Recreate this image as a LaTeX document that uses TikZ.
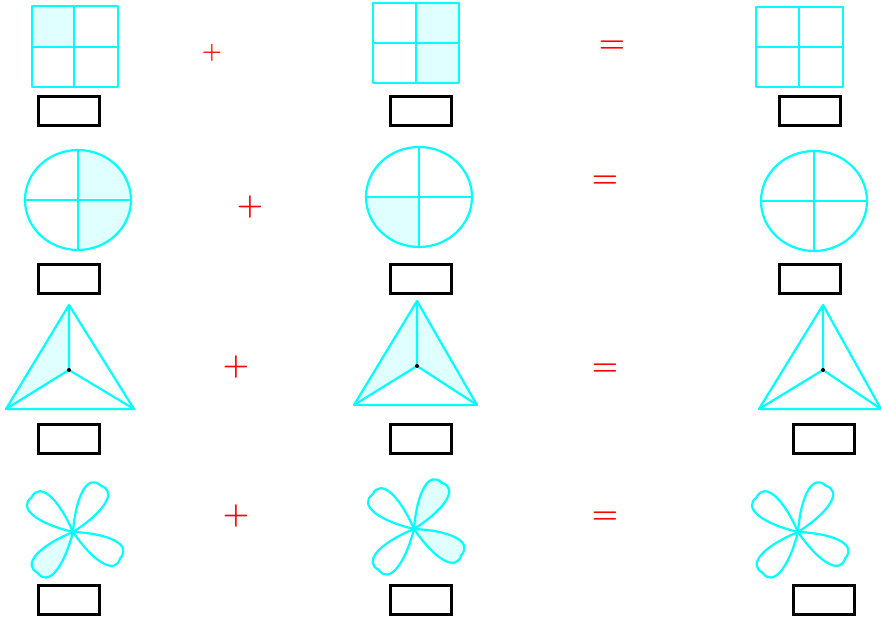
\documentclass[tikz,border=0pt]{standalone}
\usetikzlibrary{calc}
\definecolor{cy}{RGB}{0,255,255}
\definecolor{lcy}{RGB}{224,255,255}
\definecolor{rd}{RGB}{255,0,0}
\tikzset{
 shp/.style={draw=cy, line width=2.2pt, line join=round},
 shadefill/.style={fill=lcy},
 ansbox/.style={draw=black, line width=3pt, minimum width=61pt, minimum height=29pt, inner sep=0pt},
 op/.style={text=rd, font=\fontsize{30}{30}\selectfont\bfseries, inner sep=0pt},
 opsmall/.style={text=rd, font=\fontsize{23}{23}\selectfont\bfseries, inner sep=0pt},
 ctr/.style={fill=black, circle, inner sep=0pt, minimum size=4pt},
}
\newcommand{\petalpath}{(0,0) .. controls (34,17) and (58,17) .. (54,0) .. controls (58,-17) and (34,-17) .. (0,0)}
\begin{document}
\begin{tikzpicture}[x=1pt,y=1pt]
\useasboundingbox (0,0) rectangle (881,618);

% ---------- Row 1: squares ----------
\fill[shadefill] (32,571) rectangle (74,612);
\draw[shp] (32,531) rectangle (118,612);
\draw[shp] (74,531) -- (74,612) (32,571) -- (118,571);

\fill[shadefill] (416,535) rectangle (459,615);
\draw[shp] (373,535) rectangle (459,615);
\draw[shp] (416,535) -- (416,615) (373,575) -- (459,575);

\draw[shp] (756,531) rectangle (843,611);
\draw[shp] (799,531) -- (799,611) (756,571) -- (843,571);

\node[ansbox] (b11) at (68.5,506.5) {};
\node[ansbox] (b12) at (421,506.5) {};
\node[ansbox] (b13) at (809.5,506.5) {};
\node[opsmall] (p1) at (212,565) {+};
\node[op] (e1) at (612,571) {=};

% ---------- Row 2: circles ----------
\fill[shadefill] (78,468) arc[start angle=90, end angle=-90, x radius=53, y radius=50] -- cycle;
\draw[shp] (78,418) ellipse [x radius=53, y radius=50];
\draw[shp] (78,368) -- (78,468) (25,418) -- (131,418);

\fill[shadefill] (419,421) -- (366,421) arc[start angle=180, end angle=270, x radius=53, y radius=50] -- cycle;
\draw[shp] (419,421) ellipse [x radius=53, y radius=50];
\draw[shp] (419,371) -- (419,471) (366,421) -- (472,421);

\draw[shp] (814,417) ellipse [x radius=53, y radius=50];
\draw[shp] (814,367) -- (814,467) (761,417) -- (867,417);

\node[ansbox] (b21) at (68.5,339) {};
\node[ansbox] (b22) at (421,339) {};
\node[ansbox] (b23) at (809.5,339) {};
\node[op] (p2) at (250,411) {+};
\node[op] (e2) at (605,436) {=};

% ---------- Row 3: triangles ----------
\coordinate (A1) at (69,313); \coordinate (L1) at (6,209); \coordinate (R1) at (134,209); \coordinate (O1) at (69,248);
\fill[shadefill] (A1) -- (O1) -- (L1) -- cycle;
\draw[shp] (A1) -- (L1) -- (R1) -- cycle;
\draw[shp] (O1) -- (A1) (O1) -- (L1) (O1) -- (R1);
\node[ctr] (c1) at (O1) {};

\coordinate (A2) at (417,317); \coordinate (L2) at (354,213); \coordinate (R2) at (477,213); \coordinate (O2) at (417,252);
\fill[shadefill] (A2) -- (O2) -- (L2) -- cycle;
\fill[shadefill] (A2) -- (O2) -- (R2) -- cycle;
\draw[shp] (A2) -- (L2) -- (R2) -- cycle;
\draw[shp] (O2) -- (A2) (O2) -- (L2) (O2) -- (R2);
\node[ctr] (c2) at (O2) {};

\coordinate (A3) at (823,313); \coordinate (L3) at (759,209); \coordinate (R3) at (881,209); \coordinate (O3) at (823,248);
\draw[shp] (A3) -- (L3) -- (R3) -- cycle;
\draw[shp] (O3) -- (A3) (O3) -- (L3) (O3) -- (R3);
\node[ctr] (c3) at (O3) {};

\node[ansbox] (b31) at (68.5,178.5) {};
\node[ansbox] (b32) at (421,178.5) {};
\node[ansbox] (b33) at (823.5,178.5) {};
\node[op] (p3) at (236,251) {+};
\node[op] (e3) at (605,248) {=};

% ---------- Row 4: four-leaf flowers ----------
\begin{scope}[shift={(73,86)}]
  \fill[shadefill, rotate=229] \petalpath;
  \foreach \a in {59,140,229,331}
    \draw[shp, rotate=\a] \petalpath;
\end{scope}
\begin{scope}[shift={(414,89)}]
  \fill[shadefill, rotate=59] \petalpath;
  \fill[shadefill, rotate=331] \petalpath;
  \foreach \a in {59,140,229,331}
    \draw[shp, rotate=\a] \petalpath;
\end{scope}
\begin{scope}[shift={(798,86)}]
  \foreach \a in {59,140,229,331}
    \draw[shp, rotate=\a] \petalpath;
\end{scope}

\node[ansbox] (b41) at (68.5,17.5) {};
\node[ansbox] (b42) at (421,17.5) {};
\node[ansbox] (b43) at (823.5,17.5) {};
\node[op] (p4) at (236,102) {+};
\node[op] (e4) at (605,100) {=};
\end{tikzpicture}
\end{document}
